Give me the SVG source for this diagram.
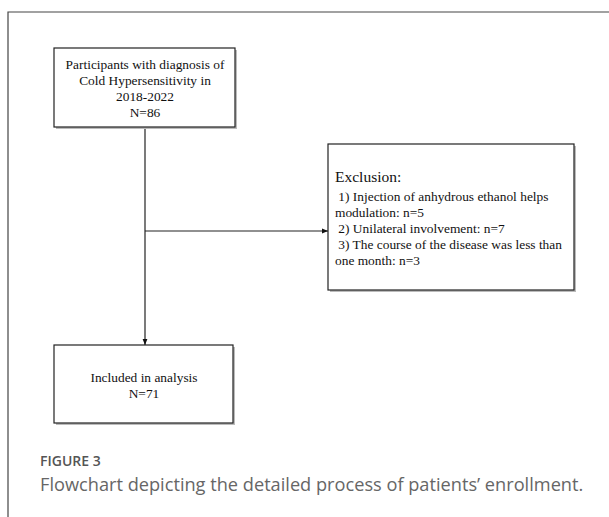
<svg xmlns="http://www.w3.org/2000/svg" width="609" height="517" viewBox="0 0 609 517">
<defs>
<marker id="arr" viewBox="0 0 10 10" refX="10" refY="5" markerWidth="6" markerHeight="6" orient="auto" markerUnits="userSpaceOnUse"><path d="M0,1 L10,5 L0,9 z" fill="#111"/></marker>
</defs>
<style>
.box{fill:#fff;stroke:#222;stroke-width:1.2}
.sh{fill:#bbb}
.t{font-family:"Liberation Serif","Times New Roman",serif;font-size:13.4px;fill:#111}
.c{text-anchor:middle}
.ln{stroke:#222;stroke-width:1.2;fill:none}
</style>
<rect width="609" height="517" fill="#fff"/>
<path d="M8,517 V12 H609" fill="none" stroke="#444" stroke-width="1.2"/>
<g id="connectors">
<line class="ln" x1="145" y1="127" x2="145" y2="345" marker-end="url(#arr)"/>
<line class="ln" x1="145" y1="231" x2="328" y2="231" marker-end="url(#arr)"/>
</g>
<g id="node-participants">
<rect class="sh" x="56" y="50" width="181" height="79"/>
<rect class="box" x="54" y="48" width="181" height="79"/>
<text class="t c" x="145" y="69">Participants with diagnosis of</text>
<text class="t c" x="145" y="85">Cold Hypersensitivity in</text>
<text class="t c" x="145" y="101">2018-2022</text>
<text class="t c" x="145" y="117">N=86</text>
</g>
<g id="node-exclusion">
<rect class="sh" x="330" y="146" width="246" height="146"/>
<rect class="box" x="328" y="144" width="246" height="146"/>
<text class="t" x="335" y="182" style="font-size:15.5px">Exclusion:</text>
<text class="t" x="335" y="201" xml:space="preserve"> 1) Injection of anhydrous ethanol helps</text>
<text class="t" x="335" y="217">modulation: n=5</text>
<text class="t" x="335" y="233" xml:space="preserve"> 2) Unilateral involvement: n=7</text>
<text class="t" x="335" y="249" xml:space="preserve"> 3) The course of the disease was less than</text>
<text class="t" x="335" y="265">one month: n=3</text>
</g>
<g id="node-included">
<rect class="sh" x="56" y="347" width="179" height="78"/>
<rect class="box" x="54" y="345" width="179" height="78"/>
<text class="t c" x="144" y="382">Included in analysis</text>
<text class="t c" x="144" y="398">N=71</text>
</g>
<g id="caption">
<text x="40" y="466" style="font-family:'Open Sans','Noto Sans',sans-serif;font-size:14px;font-weight:600;fill:#555">FIGURE 3</text>
<text x="40" y="491" style="font-family:'Open Sans','Noto Sans',sans-serif;font-size:18.2px;fill:#666">Flowchart depicting the detailed process of patients’ enrollment.</text>
</g>
</svg>
